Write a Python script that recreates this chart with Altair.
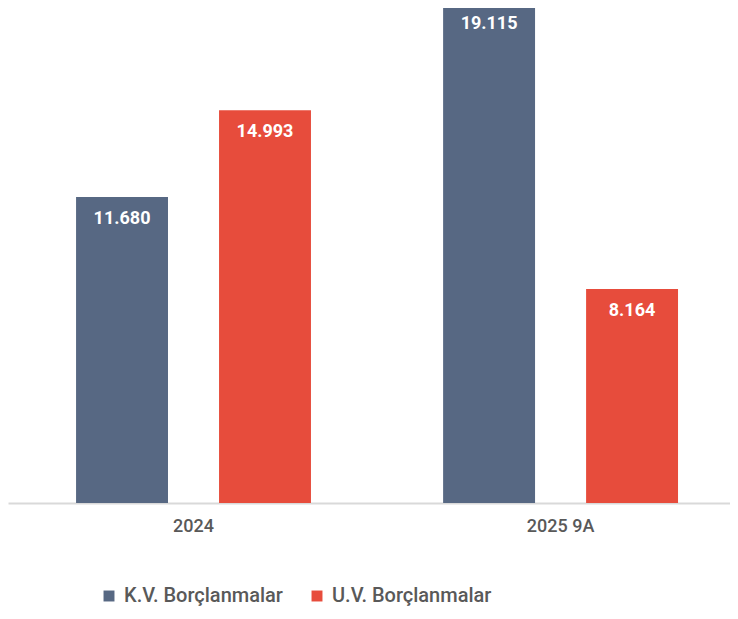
import altair as alt
import pandas as pd

categories = ["2024", "2025 9A"]
series_names = ["K.V. Borçlanmalar", "U.V. Borçlanmalar"]
kv_values = [11680, 19115]
uv_values = [14993, 8164]
colors = ["#576883", "#e74c3c"]

rows = []
for i, c in enumerate(categories):
    rows.append({"cat": c, "series": series_names[0], "value": kv_values[i]})
    rows.append({"cat": c, "series": series_names[1], "value": uv_values[i]})
df = pd.DataFrame(rows)
df["label"] = df["value"].map(lambda v: f"{v:,}".replace(",", "."))

x_enc = alt.X("cat:N", sort=categories, title=None,
              scale=alt.Scale(paddingInner=0.36, paddingOuter=0.1635, align=0.567),
              axis=alt.Axis(labelAngle=0, ticks=False, domainColor="#d9d9d9", domainWidth=2,
                            labelFont="Roboto", labelFontSize=18, labelColor="#595959",
                            labelPadding=14, labelFontWeight=500))
xo_enc = alt.XOffset("series:N", sort=series_names,
                     scale=alt.Scale(paddingInner=0.357, paddingOuter=0))
y_enc = alt.Y("value:Q", title=None, axis=None,
              scale=alt.Scale(domain=[0, 18893], nice=False, zero=True))

base = alt.Chart(df)

bars = base.mark_bar(clip=True).encode(
    x=x_enc, xOffset=xo_enc, y=y_enc,
    color=alt.Color("series:N", sort=series_names, title=None,
                    scale=alt.Scale(domain=series_names, range=colors),
                    legend=alt.Legend(orient="none", direction="horizontal",
                                      legendX=91, legendY=578,
                                      symbolType="square", symbolSize=120,
                                      symbolStrokeWidth=0,
                                      labelFont="Roboto", labelFontSize=20,
                                      labelFontWeight=500,
                                      labelColor="#595959", columnPadding=24,
                                      labelOffset=5, labelLimit=300))
)

texts = base.mark_text(font="Roboto", fontSize=18, fontWeight="bold", color="white",
                       baseline="middle", dy=22).encode(
    x=x_enc, xOffset=xo_enc, y=y_enc, text="label:N"
)

chart = (bars + texts).properties(
    width=722, height=495,
    autosize=alt.AutoSizeParams(type="none"),
    padding={"left": 0, "top": 0, "right": 0, "bottom": 108},
).configure_view(stroke=None)

chart.save("out.html", embed_options={"renderer": "svg", "actions": False})
